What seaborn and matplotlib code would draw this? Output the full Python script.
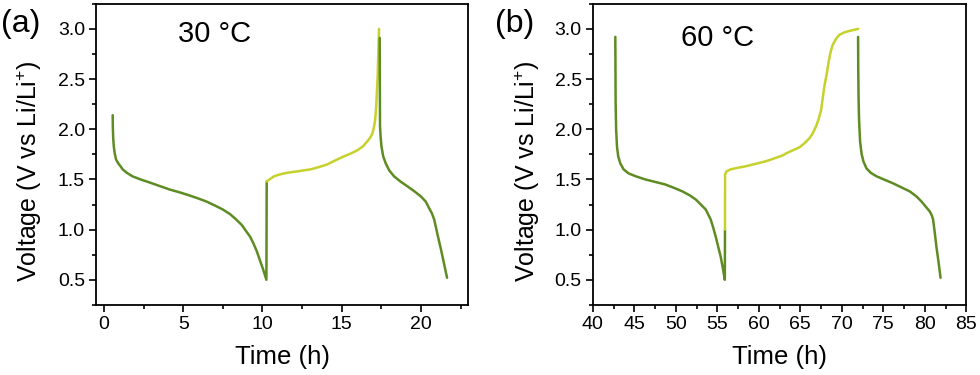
import numpy as np
import matplotlib
matplotlib.use("Agg")
import matplotlib.pyplot as plt
import seaborn as sns
from matplotlib.ticker import MultipleLocator, FormatStrFormatter

# panel (a), 30 C
a_dis1_t = [0.55, 0.56, 0.58, 0.62, 0.68, 0.76, 0.9, 1.05, 1.18, 1.45, 1.81, 2.3, 2.87, 3.5, 4.13, 4.8,
            5.4, 5.95, 6.46, 7.0, 7.5, 7.95, 8.35, 8.7, 8.99, 9.22, 9.41, 9.63, 9.83, 10.05, 10.25, 10.27]
a_dis1_v = [2.14, 2.02, 1.92, 1.83, 1.76, 1.70, 1.66, 1.63, 1.60, 1.565, 1.53, 1.50, 1.47, 1.435, 1.40, 1.37,
            1.34, 1.31, 1.28, 1.24, 1.20, 1.155, 1.10, 1.045, 0.98, 0.93, 0.87, 0.79, 0.70, 0.60, 0.50, 1.48]
a_chg_t = [10.27, 10.45, 10.72, 11.0, 11.35, 11.75, 12.2, 12.6, 13.04, 13.6, 14.1, 14.6, 15.15, 15.6,
           15.99, 16.35, 16.62, 16.82, 16.94, 17.04, 17.11, 17.17, 17.22, 17.27, 17.3, 17.36]
a_chg_v = [1.48, 1.50, 1.53, 1.545, 1.56, 1.57, 1.58, 1.59, 1.60, 1.625, 1.65, 1.69, 1.73, 1.76,
           1.79, 1.83, 1.88, 1.92, 1.96, 2.02, 2.09, 2.20, 2.36, 2.52, 2.69, 3.0]
a_dis2_t = [17.4, 17.41, 17.42, 17.46, 17.51, 17.62, 17.78, 18.0, 18.31, 18.7, 19.16, 19.6, 20.0, 20.3,
            20.53, 20.7, 20.84, 21.05, 21.27, 21.46, 21.65]
a_dis2_v = [2.91, 2.45, 2.03, 1.92, 1.83, 1.73, 1.66, 1.59, 1.53, 1.48, 1.43, 1.38, 1.33, 1.28,
            1.21, 1.16, 1.10, 0.95, 0.80, 0.66, 0.52]

# panel (b), 60 C
b_dis1_t = [42.7, 42.72, 42.74, 42.8, 42.9, 43.05, 43.3, 43.7, 44.3, 45.2, 46.3, 47.5, 48.7, 49.8,
            50.8, 51.7, 52.4, 53.0, 53.6, 54.2, 54.5, 54.8, 55.1, 55.4, 55.65, 55.9, 55.92]
b_dis1_v = [2.92, 2.6, 2.26, 2.0, 1.83, 1.73, 1.66, 1.60, 1.56, 1.53, 1.50, 1.475, 1.45, 1.415,
            1.38, 1.34, 1.30, 1.25, 1.20, 1.10, 1.02, 0.93, 0.83, 0.73, 0.62, 0.50, 1.0]
b_chg_t = [55.92, 55.93, 56.1, 56.6, 57.4, 58.4, 59.6, 60.8, 61.9, 62.9, 63.3, 64.1, 64.9, 65.5, 66.1,
           66.5, 66.9, 67.2, 67.5, 67.7, 67.9, 68.2, 68.45, 68.65, 68.9, 69.3, 69.7, 70.3, 70.95, 71.5, 71.96]
b_chg_v = [1.0, 1.55, 1.58, 1.60, 1.615, 1.63, 1.655, 1.68, 1.71, 1.74, 1.76, 1.79, 1.82, 1.86, 1.91,
           1.96, 2.03, 2.10, 2.19, 2.31, 2.43, 2.56, 2.69, 2.77, 2.84, 2.90, 2.94, 2.965, 2.98, 2.99, 3.0]
b_dis2_t = [71.96, 71.98, 72.02, 72.08, 72.2, 72.37, 72.6, 72.97, 73.5, 74.2, 75.2, 76.2, 77.2, 78.2,
            79.0, 79.6, 80.1, 80.6, 80.85, 81.0, 81.2, 81.4, 81.65, 81.9]
b_dis2_v = [2.92, 2.6, 2.3, 2.09, 1.88, 1.76, 1.68, 1.61, 1.565, 1.53, 1.495, 1.46, 1.42, 1.38,
            1.33, 1.28, 1.23, 1.18, 1.14, 1.10, 0.97, 0.83, 0.68, 0.52]

green = "#5e8c23"
yellow = "#c6d12b"

sns.set_theme(style="ticks")
plt.rcParams['font.family'] = ['Liberation Sans', 'DejaVu Sans']
plt.rcParams['mathtext.fontset'] = 'custom'
plt.rcParams['mathtext.rm'] = 'Liberation Sans'
plt.rcParams['axes.linewidth'] = 1.3
for k in ['text.color', 'axes.labelcolor', 'xtick.color', 'ytick.color', 'axes.edgecolor']:
    plt.rcParams[k] = 'black'

fig = plt.figure(figsize=(9.8, 3.75), dpi=100)
ax_a = fig.add_axes([0.098, 0.187, 0.380, 0.803])
ax_b = fig.add_axes([0.605, 0.187, 0.381, 0.803])

panels = [
    (ax_a, [(a_dis1_t, a_dis1_v, green), (a_chg_t, a_chg_v, yellow), (a_dis2_t, a_dis2_v, green)],
     (-0.5, 23), "30 \u00b0C", (0.22, 0.90), -0.139),
    (ax_b, [(b_dis1_t, b_dis1_v, green), (b_chg_t, b_chg_v, yellow), (b_dis2_t, b_dis2_v, green)],
     (40, 85), "60 \u00b0C", (0.235, 0.885), -0.136),
]

for ax, segs, xlim, temp, tpos, ylx in panels:
    for t, v, c in segs:
        sns.lineplot(x=t, y=v, color=c, lw=1.8, sort=False, estimator=None, ax=ax)
    ax.set_xlim(*xlim)
    ax.set_ylim(0.25, 3.25)
    ax.xaxis.set_major_locator(MultipleLocator(5))
    ax.xaxis.set_minor_locator(MultipleLocator(2.5))
    ax.yaxis.set_major_locator(MultipleLocator(0.5))
    ax.yaxis.set_minor_locator(MultipleLocator(0.25))
    ax.yaxis.set_major_formatter(FormatStrFormatter('%.1f'))
    ax.tick_params(which='major', direction='out', length=5, width=1.2, labelsize=14, pad=3)
    ax.tick_params(which='minor', direction='out', length=3, width=1.2)
    ax.set_xlabel("Time (h)", fontsize=18.5, labelpad=9)
    ax.set_ylabel(r"Voltage (V vs Li/Li$^{+}$)", fontsize=18)
    ax.yaxis.set_label_coords(ylx, 0.445)
    ax.text(tpos[0], tpos[1], temp, transform=ax.transAxes, fontsize=21, va='center', ha='left')

fig.text(0.001, 0.935, "(a)", fontsize=23, va='center', ha='left')
fig.text(0.505, 0.935, "(b)", fontsize=23, va='center', ha='left')

fig.savefig("out.png", dpi=100)
